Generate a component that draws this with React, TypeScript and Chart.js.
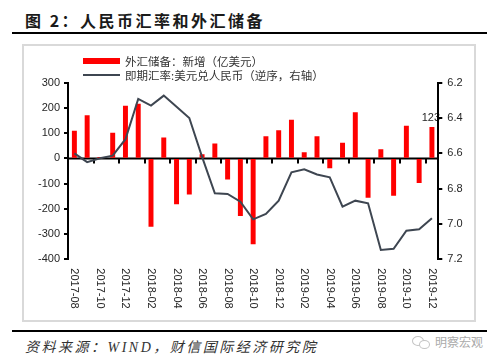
import { useEffect, useRef } from 'react';
import { Chart, registerables } from 'chart.js';

Chart.register(...registerables);

const categories = [
  '2017-08', '2017-09', '2017-10', '2017-11', '2017-12',
  '2018-01', '2018-02', '2018-03', '2018-04', '2018-05', '2018-06',
  '2018-07', '2018-08', '2018-09', '2018-10', '2018-11', '2018-12',
  '2019-01', '2019-02', '2019-03', '2019-04', '2019-05', '2019-06',
  '2019-07', '2019-08', '2019-09', '2019-10', '2019-11', '2019-12',
];

// 外汇储备：新增（亿美元）
const reserveChange = [
  108, 170, 1, 100, 207,
  215, -270, 81, -180, -142, 15,
  58, -82, -227, -339, 86, 110,
  152, 23, 86, -38, 61, 182,
  -155, 35, -147, 128, -96, 123,
];

// 即期汇率：美元兑人民币（逆序，右轴）
const usdCny = [
  6.6, 6.65, 6.628, 6.613, 6.52,
  6.292, 6.33, 6.273, 6.336, 6.4, 6.62,
  6.826, 6.83, 6.874, 6.974, 6.943, 6.868,
  6.707, 6.69, 6.72, 6.736, 6.902, 6.868,
  6.883, 7.147, 7.14, 7.038, 7.03, 6.968,
];

const leftAxis = { min: -400, max: 300, step: 100 };
const rightAxis = { min: 6.2, max: 7.2, step: 0.2 };

const barLabel = 'reserveChange';
const lineLabel = 'usdCny';

const BAR_COLOR = '#ff0000';
const LINE_COLOR = '#3e4651';
const TEXT_COLOR = '#262626';
const LATIN_FONT = '"Liberation Sans", Arial, sans-serif';
const CJK_FONT = '"Noto Sans CJK SC", "Noto Sans", sans-serif';

const axisExtras = {
  id: 'axisExtras',
  beforeDraw(chart: any) {
    const { ctx, scales } = chart;
    const x = scales.x;
    const y = scales.y;
    const last = reserveChange.length - 1;
    const bx = x.getPixelForValue(last);
    const by = y.getPixelForValue(reserveChange[last]);
    ctx.save();
    ctx.fillStyle = TEXT_COLOR;
    ctx.font = '11px ' + LATIN_FONT;
    ctx.textAlign = 'center';
    ctx.textBaseline = 'bottom';
    ctx.fillText(String(reserveChange[last]), bx - 1, by - 4);
    ctx.restore();
  },
  beforeDatasetsDraw(chart: any) {
    const { ctx, chartArea, scales } = chart;
    const x = scales.x;
    const y = scales.y;
    const y0 = y.getPixelForValue(0);
    const step = x.getPixelForValue(1) - x.getPixelForValue(0);
    ctx.save();
    ctx.strokeStyle = '#000';
    ctx.lineWidth = 2;
    ctx.beginPath();
    ctx.moveTo(chartArea.left, y0);
    ctx.lineTo(chartArea.right, y0);
    ctx.stroke();
    for (let i = 0; i < categories.length; i += 2) {
      const px = Math.round(x.getPixelForValue(i) - step / 2);
      ctx.beginPath();
      ctx.moveTo(px, y0);
      ctx.lineTo(px, y0 + 5);
      ctx.stroke();
    }
    ctx.fillStyle = TEXT_COLOR;
    ctx.font = '11px ' + LATIN_FONT;
    ctx.textAlign = 'left';
    ctx.textBaseline = 'middle';
    for (let i = 0; i < categories.length; i += 2) {
      ctx.save();
      ctx.translate(x.getPixelForValue(i), chartArea.bottom + 9);
      ctx.rotate(Math.PI / 2);
      ctx.fillText(categories[i], 0, 0);
      ctx.restore();
    }
    ctx.restore();
  },
};

export default function App() {
  const canvasRef = useRef<HTMLCanvasElement | null>(null);

  useEffect(() => {
    document.body.style.margin = '0';
    const canvas = canvasRef.current;
    if (!canvas) return;
    const chart = new Chart(canvas, {
      type: 'bar',
      data: {
        labels: categories,
        datasets: [
          {
            type: 'line',
            label: lineLabel,
            data: usdCny,
            yAxisID: 'y1',
            borderColor: LINE_COLOR,
            borderWidth: 2,
            pointRadius: 0,
            tension: 0,
            fill: false,
            order: 0,
          } as any,
          {
            type: 'bar',
            label: barLabel,
            data: reserveChange,
            yAxisID: 'y',
            backgroundColor: BAR_COLOR,
            borderWidth: 0,
            barThickness: 4.3,
            order: 1,
          } as any,
        ],
      },
      options: {
        animation: false,
        responsive: false,
        devicePixelRatio: 1,
        layout: { padding: { top: 37.7, bottom: 60.7, left: 0, right: 0 } },
        plugins: {
          legend: { display: false },
          tooltip: { enabled: false },
        },
        scales: {
          x: {
            display: false,
            offset: true,
          },
          y: {
            position: 'left',
            min: leftAxis.min,
            max: leftAxis.max,
            ticks: {
              stepSize: leftAxis.step,
              color: TEXT_COLOR,
              font: { size: 11, family: LATIN_FONT },
              padding: 4,
            },
            grid: {
              drawOnChartArea: false,
              color: '#000',
              tickLength: 4,
              lineWidth: 2,
            },
            border: { color: '#000', width: 2 },
            afterFit(scale: any) {
              scale.width = 45;
            },
          },
          y1: {
            position: 'right',
            reverse: true,
            min: rightAxis.min,
            max: rightAxis.max,
            ticks: {
              stepSize: rightAxis.step,
              color: TEXT_COLOR,
              font: { size: 11, family: LATIN_FONT },
              padding: 5,
              callback: (v: any) => Number(v).toFixed(1),
            },
            grid: {
              drawOnChartArea: false,
              color: '#000',
              tickLength: 4,
              lineWidth: 2,
            },
            border: { color: '#000', width: 2 },
            afterFit(scale: any) {
              scale.width = 36.7;
            },
          },
        },
      } as any,
      plugins: [axisExtras],
    });
    return () => chart.destroy();
  }, []);

  return (
    <div style={{ position: 'absolute', left: 0, top: 0, width: 500, height: 364, background: '#fff', overflow: 'hidden' }}>
      <div
        style={{
          position: 'absolute', left: 25, top: 10, lineHeight: '20px', fontSize: 16, fontWeight: 700,
          letterSpacing: '2.5px', color: '#1a1a1a', fontFamily: CJK_FONT, whiteSpace: 'nowrap',
        }}
      >
        图 2：人民币汇率和外汇储备
      </div>
      <div style={{ position: 'absolute', left: 12, top: 32, width: 475, height: 2, background: '#000' }} />
      <div
        style={{
          position: 'absolute', left: 22, top: 44, width: 454, height: 278,
          border: '2px solid #d9d9d9', boxSizing: 'border-box',
        }}
      />
      <canvas
        ref={canvasRef}
        width={452}
        height={275}
        style={{ position: 'absolute', left: 23, top: 45, width: 452, height: 275 }}
      />
      <div style={{ position: 'absolute', left: 83, top: 57.5, width: 37, height: 6.5, background: BAR_COLOR }} />
      <div
        style={{
          position: 'absolute', left: 125, top: 54, lineHeight: '14px', fontSize: 11.5, color: '#333',
          fontFamily: CJK_FONT, whiteSpace: 'nowrap',
        }}
      >
        外汇储备：新增（亿美元）
      </div>
      <div style={{ position: 'absolute', left: 83, top: 74, width: 37, height: 2, background: LINE_COLOR }} />
      <div
        style={{
          position: 'absolute', left: 125, top: 68, lineHeight: '14px', fontSize: 11.5, color: '#333',
          fontFamily: CJK_FONT, whiteSpace: 'nowrap',
        }}
      >
        即期汇率:美元兑人民币（逆序，右轴）
      </div>
      <div style={{ position: 'absolute', left: 12, top: 330, width: 475, height: 2, background: '#000' }} />
      <div
        style={{
          position: 'absolute', left: 25, top: 339, lineHeight: '18px', fontSize: 14, fontStyle: 'italic',
          letterSpacing: '2.5px', color: '#333', fontFamily: '"Liberation Serif", ' + CJK_FONT, whiteSpace: 'nowrap',
        }}
      >
        资料来源：WIND，财信国际经济研究院
      </div>
      <div style={{ position: 'absolute', left: 412, top: 336, width: 12, height: 10, border: '1.5px solid #c4c4c4', borderRadius: '50%', boxSizing: 'border-box' }} />
      <div style={{ position: 'absolute', left: 419, top: 340, width: 11, height: 9, border: '1.5px solid #c4c4c4', borderRadius: '50%', boxSizing: 'border-box', background: '#fff' }} />
      <div
        style={{
          position: 'absolute', left: 435, top: 334, lineHeight: '16px', fontSize: 12, color: '#aaa',
          fontFamily: CJK_FONT, whiteSpace: 'nowrap',
        }}
      >
        明察宏观
      </div>
    </div>
  );
}
